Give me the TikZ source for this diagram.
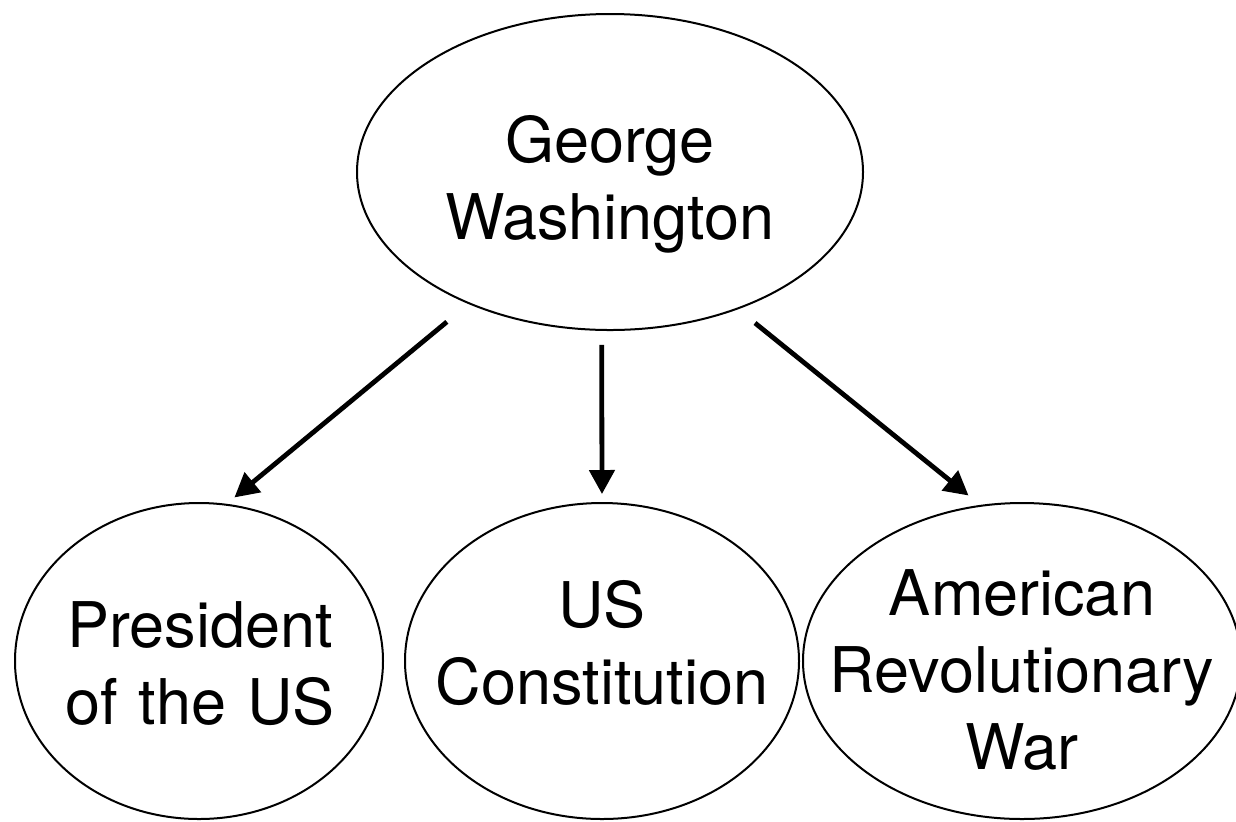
\documentclass[tikz,border=0pt]{standalone}
\usepackage{fontspec}
\setmainfont{TeX Gyre Heros}
\usetikzlibrary{arrows.meta,shapes.geometric}
\begin{document}
\begin{tikzpicture}[x=0.5pt,y=-0.5pt,
  bubble/.style n args={2}{draw, ellipse, line width=1pt, inner sep=0pt,
    minimum width=#1, minimum height=#2},
  bubbletext/.style={font=\fontsize{31.5}{38.5}\selectfont, align=center,
    text width=220pt, inner sep=0pt, anchor=base},
  link/.style={line width=2.4pt, -{Triangle[length=12pt,width=12.5pt]}}]
\useasboundingbox (0,0) rectangle (1236,821);

% concept bubbles
\node[bubble={253pt}{158pt}] (gw)   at (610,172)  {};
\node[bubble={184pt}{158pt}] (pres) at (199,661)  {};
\node[bubble={197pt}{158pt}] (con)  at (602,661)  {};
\node[bubble={219pt}{158pt}] (arw)  at (1022,661) {};

% bubble captions (first-line baselines)
\node[bubbletext] (gwt)   at (610,162)  {George\\Washington};
\node[bubbletext] (prest) at (200,647)  {President\\of the US};
\node[bubbletext] (cont)  at (602,627)  {US\\Constitution};
\node[bubbletext] (arwt)  at (1022,615) {American\\Revolutionary\\War};

% links from the central concept
\draw[link, shorten <=14pt,   shorten >=5pt]   (gw.223.8) -- (pres.80.6);
\draw[link, shorten <=7pt,    shorten >=4pt]   (gw.267.1) -- (con.90);
\draw[link, shorten <=10.9pt, shorten >=7.5pt] (gw.313.2) -- (arw.105.1);
\end{tikzpicture}
\end{document}
